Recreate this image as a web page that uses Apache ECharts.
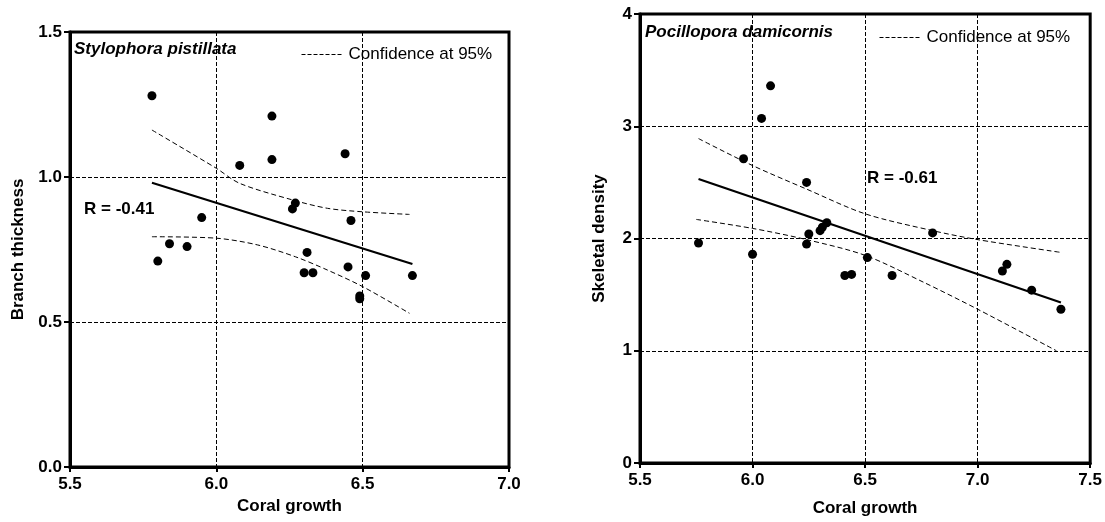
<!DOCTYPE html>
<html>
<head>
<meta charset="utf-8">
<script src="https://cdn.jsdelivr.net/npm/echarts@6/dist/echarts.min.js"></script>
<style>
  html, body { margin: 0; padding: 0; background: #fff; }
  #chart { width: 1105px; height: 522px; }
</style>
</head>
<body>
<div id="chart"></div>
<script>
// Stylophora pistillata: coral growth vs branch thickness
const leftGrowth = [5.78, 5.80, 5.84, 5.90, 5.95, 6.08, 6.19, 6.19, 6.26, 6.27, 6.30, 6.31, 6.33, 6.44, 6.45, 6.46, 6.49, 6.49, 6.51, 6.67]
const leftThickness = [1.28, 0.71, 0.77, 0.76, 0.86, 1.04, 1.21, 1.06, 0.89, 0.91, 0.67, 0.74, 0.67, 1.08, 0.69, 0.85, 0.59, 0.58, 0.66, 0.66]
const leftFitX = [5.78, 6.67]
const leftFitY = [0.98, 0.70]
const leftUpperX = [5.78, 6.00, 6.08, 6.26, 6.38, 6.50, 6.66]
const leftUpper = [1.162, 1.03, 0.978, 0.921, 0.892, 0.88, 0.871]
const leftLowerX = [5.78, 6.00, 6.14, 6.27, 6.38, 6.50, 6.66]
const leftLower = [0.794, 0.789, 0.766, 0.725, 0.679, 0.622, 0.53]

// Pocillopora damicornis: coral growth vs skeletal density
const rightGrowth = [5.76, 5.96, 6.00, 6.04, 6.08, 6.24, 6.24, 6.25, 6.30, 6.31, 6.33, 6.41, 6.44, 6.51, 6.62, 6.80, 7.11, 7.13, 7.24, 7.37]
const rightDensity = [1.96, 2.71, 1.86, 3.07, 3.36, 2.50, 1.95, 2.04, 2.07, 2.10, 2.14, 1.67, 1.68, 1.83, 1.67, 2.05, 1.71, 1.77, 1.54, 1.37]
const rightFitX = [5.76, 7.37]
const rightFitY = [2.53, 1.43]
const rightUpperX = [5.76, 6.00, 6.24, 6.50, 6.80, 7.00, 7.37]
const rightUpper = [2.89, 2.65, 2.44, 2.22, 2.07, 1.99, 1.876]
const rightLowerX = [5.75, 6.00, 6.24, 6.50, 6.76, 7.00, 7.35]
const rightLower = [2.17, 2.09, 1.99, 1.85, 1.61, 1.37, 1.0]

const ciName = 'Confidence at 95%'
const font = "'Liberation Sans', Arial, sans-serif"

const zip = (xs, ys) => xs.map((x, i) => [x, ys[i]])

function xAxisOf(gridIndex, max, nameGap) {
  return {
    gridIndex, type: 'value', min: 5.5, max, interval: 0.5,
    name: 'Coral growth', nameLocation: 'middle', nameGap,
    nameTextStyle: { fontFamily: font, fontSize: 17, fontWeight: 'bold', color: '#000' },
    axisLine: { lineStyle: { color: '#000', width: 3 } },
    axisTick: { length: 5, lineStyle: { color: '#000', width: 2 } },
    axisLabel: { margin: 9, fontFamily: font, fontSize: 17, fontWeight: 'bold', color: '#000',
      formatter: (v) => v.toFixed(1) },
    splitLine: { lineStyle: { color: '#000', width: 1, type: [4, 2] } },
  }
}

function yAxisOf(gridIndex, max, interval, name, nameGap, digits, margin) {
  return {
    gridIndex, type: 'value', min: 0, max, interval,
    name, nameLocation: 'middle', nameGap, nameRotate: 90,
    nameTextStyle: { fontFamily: font, fontSize: 17, fontWeight: 'bold', color: '#000' },
    axisLine: { show: true, lineStyle: { color: '#000', width: 3 } },
    axisTick: { show: true, length: 6, lineStyle: { color: '#000', width: 2 } },
    axisLabel: { margin, fontFamily: font, fontSize: 17, fontWeight: 'bold', color: '#000',
      formatter: (v) => v.toFixed(digits) },
    splitLine: { lineStyle: { color: '#000', width: 1, type: [4, 2] } },
  }
}

function scatterOf(i, xs, ys) {
  return {
    type: 'scatter', xAxisIndex: i, yAxisIndex: i, data: zip(xs, ys),
    symbolSize: 9, itemStyle: { color: '#000', opacity: 1 }, z: 5,
  }
}

function fitOf(i, xs, ys) {
  return {
    type: 'line', xAxisIndex: i, yAxisIndex: i, data: zip(xs, ys),
    showSymbol: false, lineStyle: { color: '#000', width: 2.2 }, z: 4,
  }
}

function ciOf(i, xs, ys) {
  return {
    name: ciName, type: 'line', xAxisIndex: i, yAxisIndex: i, data: zip(xs, ys),
    smooth: 0.3, showSymbol: false, itemStyle: { color: '#000' },
    lineStyle: { color: '#000', width: 1, type: [5, 3] }, z: 3,
  }
}

const legendBase = {
  data: [ciName], itemWidth: 42, itemHeight: 14, itemGap: 5, selectedMode: false,
  itemStyle: { opacity: 0 },
  lineStyle: { type: [4, 2], width: 1, color: '#000' },
  textStyle: { fontFamily: font, fontSize: 17, color: '#000' },
}

const titleFont = `italic bold 17px ${font}`
const rFont = `bold 17px ${font}`

const option = {
  animation: false,
  grid: [
    { left: 70, right: 596, top: 32, bottom: 55, show: true, borderColor: '#000', borderWidth: 3 },
    { left: 640, right: 14, top: 14, bottom: 58, show: true, borderColor: '#000', borderWidth: 3 },
  ],
  xAxis: [xAxisOf(0, 7.0, 30), xAxisOf(1, 7.5, 37)],
  yAxis: [
    yAxisOf(0, 1.5, 0.5, 'Branch thickness', 43, 1, 8),
    yAxisOf(1, 4, 1, 'Skeletal density', 32, 0, 8),
  ],
  legend: [
    { ...legendBase, left: 296, top: 41 },
    { ...legendBase, left: 874, top: 24 },
  ],
  graphic: [
    { type: 'text', left: 74, top: 41, style: { text: 'Stylophora pistillata', font: titleFont, fill: '#000' } },
    { type: 'text', left: 645, top: 24, style: { text: 'Pocillopora damicornis', font: titleFont, fill: '#000' } },
    { type: 'text', left: 84, top: 201, style: { text: 'R = -0.41', font: rFont, fill: '#000' } },
    { type: 'text', left: 867, top: 170, style: { text: 'R = -0.61', font: rFont, fill: '#000' } },
  ],
  series: [
    scatterOf(0, leftGrowth, leftThickness),
    fitOf(0, leftFitX, leftFitY),
    ciOf(0, leftUpperX, leftUpper),
    ciOf(0, leftLowerX, leftLower),
    scatterOf(1, rightGrowth, rightDensity),
    fitOf(1, rightFitX, rightFitY),
    ciOf(1, rightUpperX, rightUpper),
    ciOf(1, rightLowerX, rightLower),
  ],
}

const chart = echarts.init(document.getElementById('chart'))
chart.setOption(option)
window.addEventListener('resize', () => chart.resize())
</script>
</body>
</html>
